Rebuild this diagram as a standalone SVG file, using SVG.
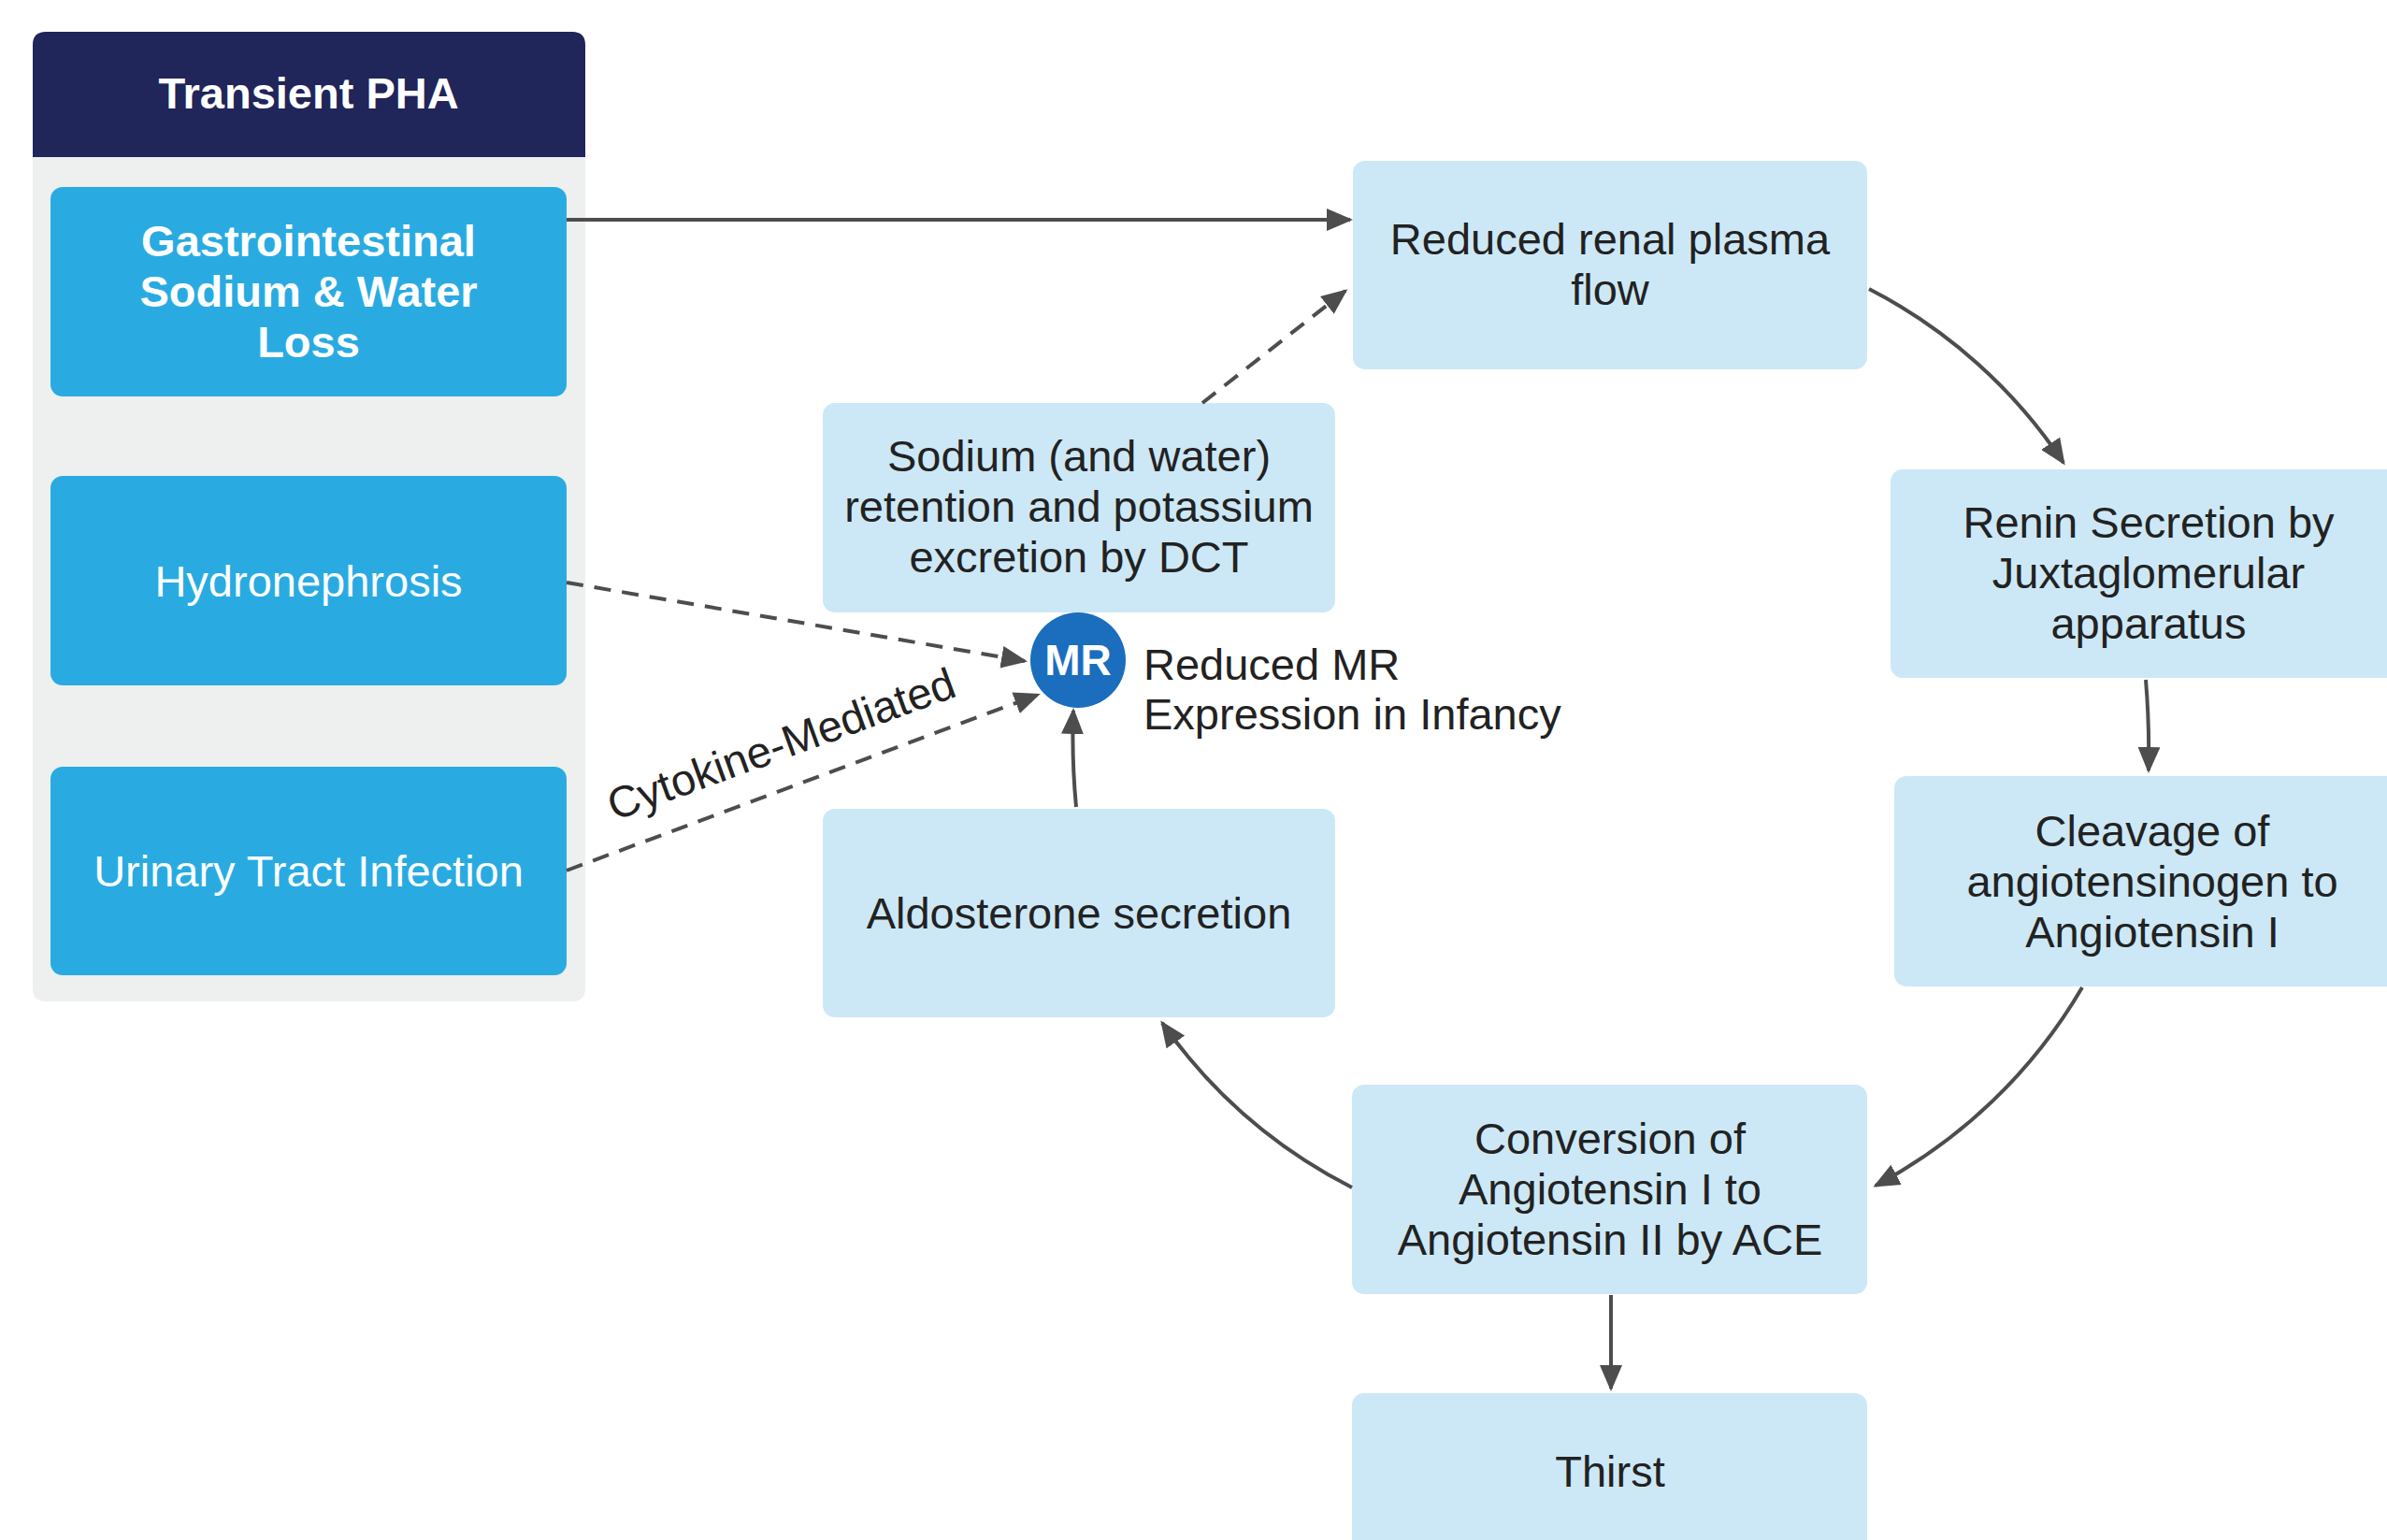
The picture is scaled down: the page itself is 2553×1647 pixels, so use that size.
<svg xmlns="http://www.w3.org/2000/svg" width="2553" height="1647" viewBox="0 0 2553 1647">
<defs>
<style>
text{font-family:"Liberation Sans",Arial,Helvetica,sans-serif;font-size:47px;}
.hdr{fill:#ffffff;font-weight:bold;text-anchor:middle;}
.wb{fill:#ffffff;font-weight:bold;text-anchor:middle;}
.w{fill:#ffffff;text-anchor:middle;}
.d{fill:#222222;text-anchor:middle;}
.dl{fill:#222222;}
.blue{fill:#29abe2;}
.light{fill:#cce8f6;}
.con{fill:none;stroke:#4d4d4d;stroke-width:4;}
.dash{stroke-dasharray:18 12;}
</style>
<marker id="ah" viewBox="0 0 28 24" refX="25" refY="12" markerWidth="28" markerHeight="24" orient="auto" markerUnits="userSpaceOnUse">
<path d="M0,0 L28,12 L0,24 z" fill="#4d4d4d"/>
</marker>
</defs>
<rect width="2553" height="1647" fill="#ffffff"/>

<g id="panel">
<path d="M35,168 H626 V1057 Q626,1071 612,1071 H49 Q35,1071 35,1057 Z" fill="#eeefef"/>
</g>
<g id="header">
<path d="M35,168 V48 Q35,34 49,34 H612 Q626,34 626,48 V168 Z" fill="#20255a"/>
<text class="hdr" x="330" y="116">Transient PHA</text>
</g>

<g id="gi">
<rect class="blue" x="54" y="200" width="552" height="224" rx="13"/>
<text class="wb" x="330" y="274">Gastrointestinal</text>
<text class="wb" x="330" y="328">Sodium &amp; Water</text>
<text class="wb" x="330" y="382">Loss</text>
</g>
<g id="hydronephrosis">
<rect class="blue" x="54" y="509" width="552" height="224" rx="13"/>
<text class="w" x="330" y="638">Hydronephrosis</text>
</g>
<g id="uti">
<rect class="blue" x="54" y="820" width="552" height="223" rx="13"/>
<text class="w" x="330" y="948">Urinary Tract Infection</text>
</g>

<g id="renal">
<rect class="light" x="1447" y="172" width="550" height="223" rx="13"/>
<text class="d" x="1722" y="272">Reduced renal plasma</text>
<text class="d" x="1722" y="326">flow</text>
</g>
<g id="renin">
<rect class="light" x="2022" y="502" width="560" height="223" rx="13"/>
<text class="d" x="2298" y="575">Renin Secretion by</text>
<text class="d" x="2298" y="629">Juxtaglomerular</text>
<text class="d" x="2298" y="683">apparatus</text>
</g>
<g id="cleavage">
<rect class="light" x="2026" y="830" width="560" height="225" rx="13"/>
<text class="d" x="2302" y="905">Cleavage of</text>
<text class="d" x="2302" y="959">angiotensinogen to</text>
<text class="d" x="2302" y="1013">Angiotensin I</text>
</g>
<g id="conversion">
<rect class="light" x="1446" y="1160" width="551" height="224" rx="13"/>
<text class="d" x="1722" y="1234">Conversion of</text>
<text class="d" x="1722" y="1288">Angiotensin I to</text>
<text class="d" x="1722" y="1342">Angiotensin II by ACE</text>
</g>
<g id="thirst">
<rect class="light" x="1446" y="1490" width="551" height="240" rx="13"/>
<text class="d" x="1722" y="1590">Thirst</text>
</g>
<g id="aldosterone">
<rect class="light" x="880" y="865" width="548" height="223" rx="13"/>
<text class="d" x="1154" y="993">Aldosterone secretion</text>
</g>
<g id="sodium">
<rect class="light" x="880" y="431" width="548" height="224" rx="13"/>
<text class="d" x="1154" y="504">Sodium (and water)</text>
<text class="d" x="1154" y="558">retention and potassium</text>
<text class="d" x="1154" y="612">excretion by DCT</text>
</g>
<g id="mr">
<circle cx="1153" cy="706" r="51" fill="#1b6dbd"/>
<text class="wb" x="1153" y="722" style="font-size:46px">MR</text>
<text class="dl" x="1223" y="727">Reduced MR</text>
<text class="dl" x="1223" y="780">Expression in Infancy</text>
</g>

<g id="connectors">
<path class="con" d="M606,235 H1444" marker-end="url(#ah)"/>
<path class="con dash" d="M1286,431 L1439,311" marker-end="url(#ah)"/>
<path class="con" d="M1999,309 A555,555 0 0 1 2207,495" marker-end="url(#ah)"/>
<path class="con" d="M2295,727 Q2299,775 2298,824" marker-end="url(#ah)"/>
<path class="con" d="M2227,1056 A560,560 0 0 1 2006,1268" marker-end="url(#ah)"/>
<path class="con" d="M1723,1385 V1485" marker-end="url(#ah)"/>
<path class="con" d="M1446,1270 A560,560 0 0 1 1243,1094" marker-end="url(#ah)"/>
<path class="con" d="M1151,863 Q1146,810 1148,760" marker-end="url(#ah)"/>
<path class="con dash" d="M606,623 L1096,707" marker-end="url(#ah)"/>
<path class="con dash" d="M606,931 L1110,743" marker-end="url(#ah)"/>
<text class="dl" x="841" y="811" text-anchor="middle" transform="rotate(-20 841 811)">Cytokine-Mediated</text>
</g>
</svg>
